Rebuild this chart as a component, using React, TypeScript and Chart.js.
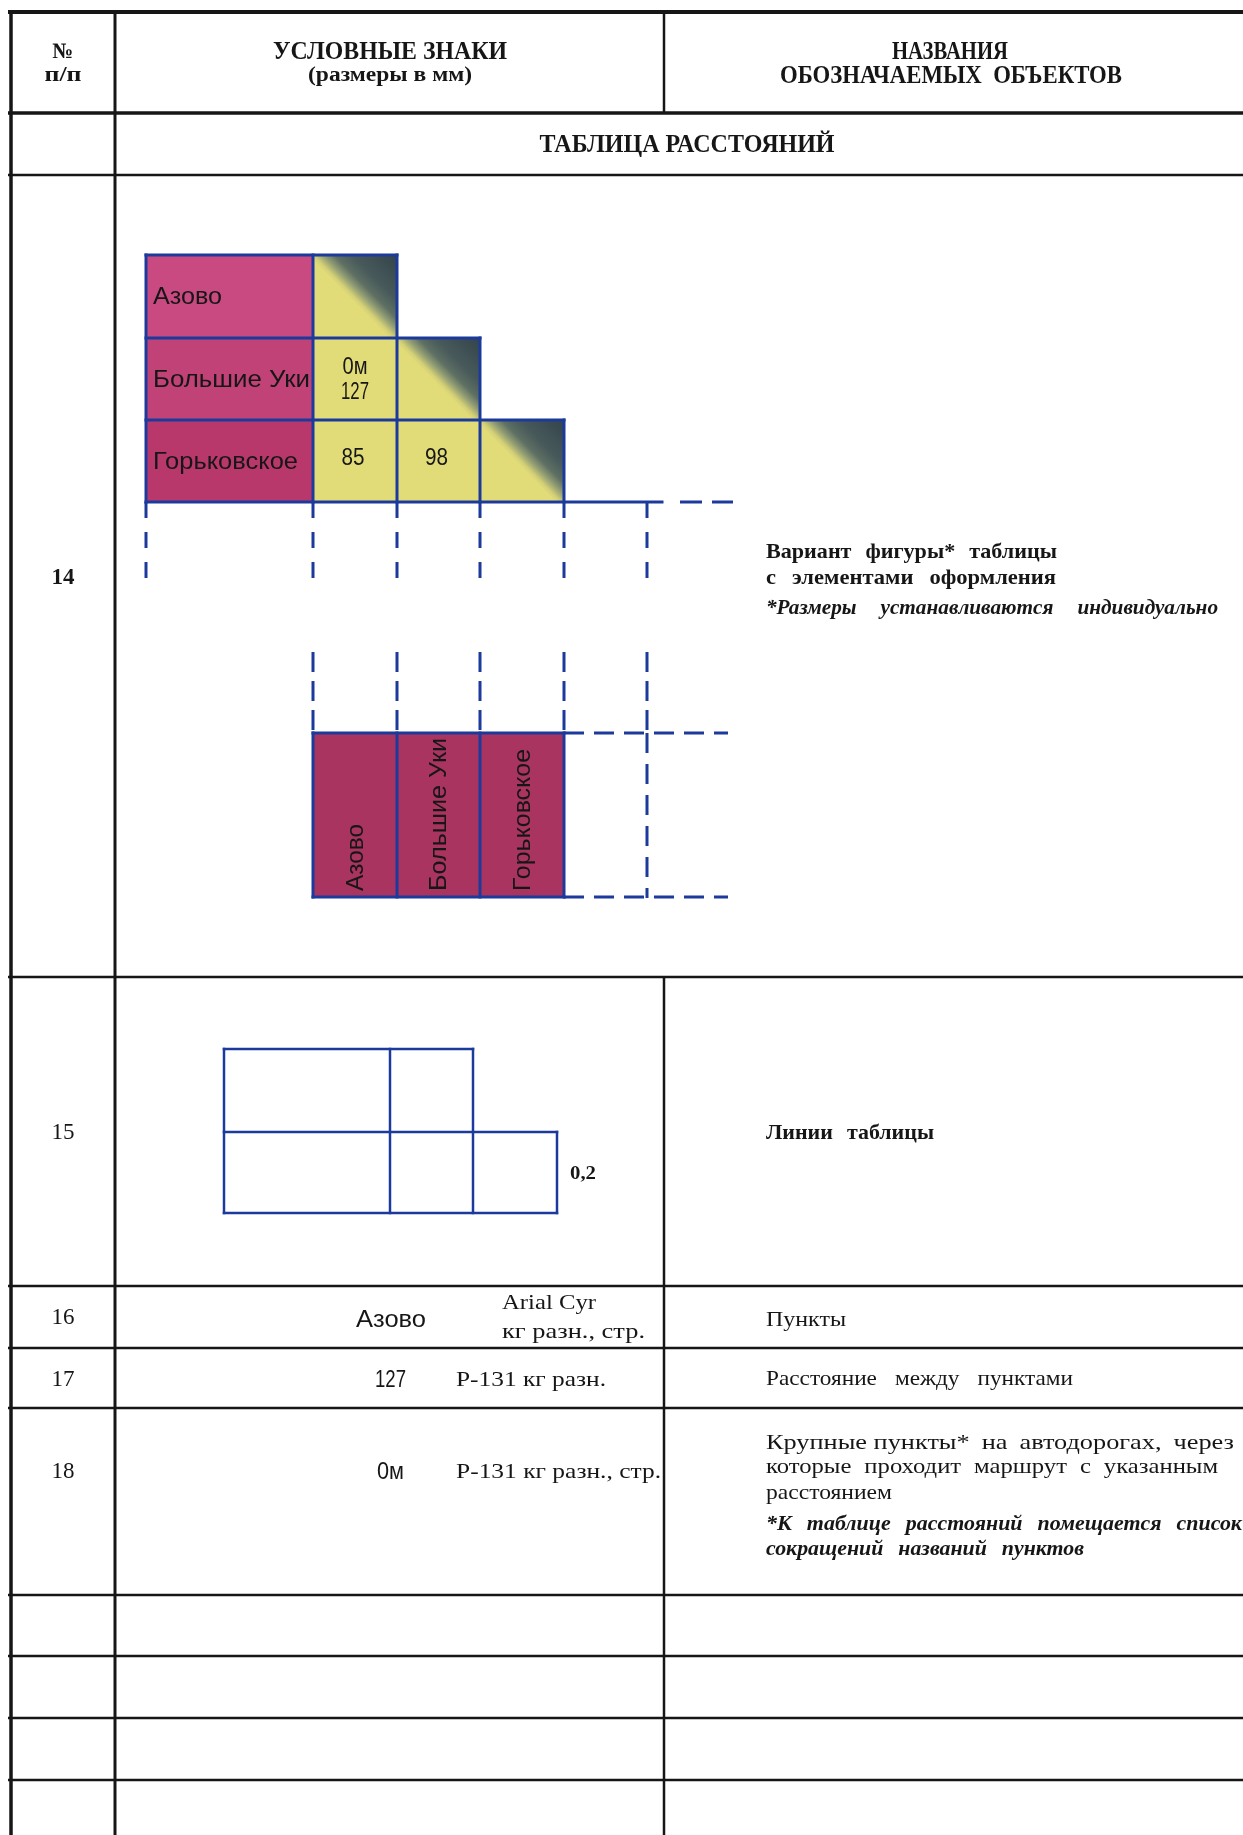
import React, { useEffect, useRef } from "react";
import { Chart, registerables } from "chart.js";

Chart.register(...registerables);

const W = 1243;
const H = 1835;

// ---- content (data) ----
const headerNo = ["№", "п/п"];
const headerSigns = ["УСЛОВНЫЕ ЗНАКИ", "(размеры в мм)"];
const headerNames = ["НАЗВАНИЯ", "ОБОЗНАЧАЕМЫХ  ОБЪЕКТОВ"];
const sectionTitle = "ТАБЛИЦА РАССТОЯНИЙ";
const rowNumbers = ["14", "15", "16", "17", "18"];
const places = ["Азово", "Большие Уки", "Горьковское"];
// distance cells below the diagonal, row by row (each cell may hold several lines)
const distanceCells: string[][][] = [[], [["0м", "127"]], [["85"], ["98"]]];
const lineWeightLabel = "0,2";
const desc14 = ["Вариант  фигуры*  таблицы", "с  элементами  оформления"];
const note14 = "*Размеры  устанавливаются  индивидуально";
const desc15 = "Линии  таблицы";
const sample16 = ["Азово", "Arial Cyr", "кг разн., стр."];
const desc16 = "Пункты";
const sample17 = ["127", "Р-131 кг разн."];
const desc17 = "Расстояние  между  пунктами";
const sample18 = ["0м", "Р-131 кг разн., стр."];
const desc18 = [
  "Крупные пункты*  на  автодорогах,  через",
  "которые  проходит  маршрут  с  указанным",
  "расстоянием",
];
const note18 = ["*К  таблице  расстояний  помещается  список", "сокращений  названий  пунктов"];

// ---- styles ----
const INK = "#161616";
const BLUE = "#1c3a9c";
const MAGENTA = ["#c84a80", "#c14277", "#b9386c"];
const MAGENTA_LOW = "#a9345f";
const YELLOW = "#e2dc78";
const SERIF = "'Liberation Serif', 'Times New Roman', serif";
const SANS = "'Liberation Sans', Arial, sans-serif";

const pagePlugin = {
  id: "pagePlugin",
  beforeDraw(chart: any) {
    const ctx = chart.ctx;
    ctx.save();
    ctx.fillStyle = "#ffffff";
    ctx.fillRect(0, 0, chart.width, chart.height);
    ctx.restore();
  },
  afterDraw(chart: any) {
    const ctx: CanvasRenderingContext2D = chart.ctx;
    const xs = chart.scales.x;
    const ys = chart.scales.y;
    const X = (v: number) => xs.getPixelForValue(v);
    const Y = (v: number) => ys.getPixelForValue(v);

    const line = (
      x1: number, y1: number, x2: number, y2: number,
      color: string, w: number, dash: number[] = [], cap: CanvasLineCap = "butt"
    ) => {
      ctx.save();
      ctx.strokeStyle = color;
      ctx.lineWidth = w;
      ctx.lineCap = cap;
      ctx.setLineDash(dash);
      ctx.beginPath();
      ctx.moveTo(X(x1), Y(y1));
      ctx.lineTo(X(x2), Y(y2));
      ctx.stroke();
      ctx.restore();
    };
    const rect = (x1: number, y1: number, x2: number, y2: number, fill: any) => {
      ctx.save();
      ctx.fillStyle = fill;
      ctx.fillRect(X(x1), Y(y1), X(x2) - X(x1), Y(y2) - Y(y1));
      ctx.restore();
    };
    const txt = (
      s: string, x: number, y: number, font: string,
      o: { align?: CanvasTextAlign; width?: number; rotate?: boolean; gap?: number; color?: string } = {}
    ) => {
      ctx.save();
      ctx.font = font;
      ctx.fillStyle = o.color || INK;
      ctx.textBaseline = "middle";
      ctx.translate(X(x), Y(y));
      if (o.rotate) ctx.rotate(-Math.PI / 2);
      const groups = s.split(/\s{2,}/);
      if (o.gap !== undefined && o.width && groups.length > 1) {
        // justified line: groups separated by a fixed gap, glyphs scaled to fill the width
        const ws = groups.map((w) => ctx.measureText(w).width);
        const sum = ws.reduce((a, b) => a + b, 0);
        const st = (o.width - o.gap * (groups.length - 1)) / sum;
        ctx.textAlign = "left";
        let cx = 0;
        groups.forEach((w, i) => {
          ctx.save();
          ctx.translate(cx, 0);
          ctx.scale(st, 1);
          ctx.fillText(w, 0, 0);
          ctx.restore();
          cx += ws[i] * st + o.gap!;
        });
      } else {
        const m = ctx.measureText(s).width;
        const sx = o.width ? o.width / m : 1;
        ctx.textAlign = o.align || "left";
        ctx.scale(sx, 1);
        ctx.fillText(s, 0, 0);
      }
      ctx.restore();
    };

    // ---------- page frame ----------
    const hRules = [12, 113, 175, 977, 1286, 1348, 1408, 1595, 1656, 1718, 1780];
    hRules.forEach((y, i) => line(8, y, W, y, INK, i === 0 ? 4 : i === 1 ? 3.5 : 2.5));
    line(11, 10, 11, H, INK, 3.5);
    line(115, 10, 115, H, INK, 3);
    line(664, 10, 664, 113, INK, 2.5);
    line(664, 977, 664, H, INK, 2.5);

    // ---------- header ----------
    txt(headerNo[0], 63, 52, `bold 22px ${SERIF}`, { align: "center", width: 21 });
    txt(headerNo[1], 63, 76, `bold 21px ${SERIF}`, { align: "center", width: 37 });
    txt(headerSigns[0], 390, 53, `bold 25px ${SERIF}`, { align: "center", width: 234 });
    txt(headerSigns[1], 390, 76, `bold 20px ${SERIF}`, { align: "center", width: 164 });
    txt(headerNames[0], 950, 53, `bold 25px ${SERIF}`, { align: "center", width: 116 });
    txt(headerNames[1], 951, 77, `bold 25px ${SERIF}`, { align: "center", width: 342 });
    txt(sectionTitle, 687, 146, `bold 25px ${SERIF}`, { align: "center", width: 295 });

    // ---------- row numbers ----------
    const numY = [578, 1133, 1318, 1380, 1472];
    rowNumbers.forEach((n, i) =>
      txt(n, 63, numY[i], `${i === 0 ? "bold " : ""}23px ${SERIF}`, { align: "center", width: 23 })
    );

    // ---------- row 14: distance table figure ----------
    const gx = [146, 313, 397, 480, 564, 647];
    const gy = [255, 338, 420, 502];
    places.forEach((p, r) => {
      rect(gx[0], gy[r], gx[1], gy[r + 1], MAGENTA[r]);
      for (let c = 1; c <= r; c++) rect(gx[c], gy[r], gx[c + 1], gy[r + 1], YELLOW);
      // diagonal cell with shading toward the upper-right corner
      const x1 = gx[r + 1], x2 = gx[r + 2], y1 = gy[r], y2 = gy[r + 1];
      const cx = (X(x1) + X(x2)) / 2, cy = (Y(y1) + Y(y2)) / 2;
      const a = (X(x2) - X(x1)) * 0.04;
      const g = ctx.createLinearGradient(cx - a, cy + a, X(x2), Y(y1));
      g.addColorStop(0, YELLOW);
      g.addColorStop(0.06, "#d3d076");
      g.addColorStop(0.17, "#949f74");
      g.addColorStop(0.3, "#5e6f63");
      g.addColorStop(0.5, "#47595a");
      g.addColorStop(1, "#33444b");
      rect(x1, y1, x2, y2, g);
    });
    // names
    const nameW = [69, 157, 145];
    places.forEach((p, r) =>
      txt(p, 153, (gy[r] + gy[r + 1]) / 2 + 1, `24px ${SANS}`, { width: nameW[r] })
    );
    // distances
    distanceCells.forEach((rowCells, r) => {
      rowCells.forEach((cell, c) => {
        const cxv = (gx[c + 1] + gx[c + 2]) / 2;
        const cyv = (gy[r] + gy[r + 1]) / 2;
        if (cell.length === 1) {
          txt(cell[0], cxv - 2, cyv - 3, `24px ${SANS}`, { align: "center", width: 23 });
        } else {
          txt(cell[0], cxv, cyv - 12, `24px ${SANS}`, { align: "center", width: 25 });
          txt(cell[1], cxv, cyv + 13, `24px ${SANS}`, { align: "center", width: 28 });
        }
      });
    });
    // grid lines (staircase)
    places.forEach((p, r) => line(gx[0], gy[r], gx[r + 2], gy[r], BLUE, 3, [], "square"));
    line(gx[0], gy[3], 662, gy[3], BLUE, 3, [], "square");
    line(680, gy[3], 733, gy[3], BLUE, 3, [22, 10]);
    for (let k = 0; k <= 4; k++) {
      const top = gy[Math.max(0, k - 2)];
      line(gx[k], top, gx[k], gy[3], BLUE, 3, [], "square");
    }
    // dashed continuation below the table
    gx.forEach((x) => line(x, gy[3], x, 583, BLUE, 3, [16, 14]));
    // dashed lead-in to the column header block
    gx.slice(1).forEach((x) => line(x, 652, x, 733, BLUE, 3, [20, 9]));
    // column-header block (rotated names)
    const by1 = 733, by2 = 897;
    rect(gx[1], by1, gx[4], by2, MAGENTA_LOW);
    const vNameW = [67, 153, 142];
    places.forEach((p, i) =>
      txt(p, (gx[i + 1] + gx[i + 2]) / 2 + 1, 891, `24px ${SANS}`, { rotate: true, width: vNameW[i] })
    );
    [by1, by2].forEach((y) => {
      line(gx[1], y, gx[4], y, BLUE, 3, [], "square");
      line(gx[4], y, 728, y, BLUE, 3, [20, 10]);
    });
    for (let k = 1; k <= 4; k++) line(gx[k], by1, gx[k], by2, BLUE, 3, [], "square");
    line(gx[5], by1, gx[5], by2 + 1, BLUE, 3, [20, 11]);

    // row 14 description
    txt(desc14[0], 766, 552, `bold 22px ${SERIF}`, { width: 291, gap: 14 });
    txt(desc14[1], 766, 578, `bold 22px ${SERIF}`, { width: 290, gap: 16 });
    txt(note14, 766, 609, `bold italic 21px ${SERIF}`, { width: 452, gap: 24 });

    // ---------- row 15: table lines ----------
    const lx = [224, 390, 473, 557];
    const ly = [1049, 1132, 1213];
    line(lx[0], ly[0], lx[2], ly[0], BLUE, 2.5, [], "square");
    line(lx[0], ly[1], lx[3], ly[1], BLUE, 2.5, [], "square");
    line(lx[0], ly[2], lx[3], ly[2], BLUE, 2.5, [], "square");
    line(lx[0], ly[0], lx[0], ly[2], BLUE, 2.5, [], "square");
    line(lx[1], ly[0], lx[1], ly[2], BLUE, 2.5, [], "square");
    line(lx[2], ly[0], lx[2], ly[2], BLUE, 2.5, [], "square");
    line(lx[3], ly[1], lx[3], ly[2], BLUE, 2.5, [], "square");
    txt(lineWeightLabel, 570, 1174, `bold 18px ${SERIF}`, { width: 26 });
    txt(desc15, 766, 1133, `bold 22px ${SERIF}`, { width: 168, gap: 14 });

    // ---------- row 16 ----------
    txt(sample16[0], 356, 1320, `24px ${SANS}`, { width: 70 });
    txt(sample16[1], 502, 1303, `22px ${SERIF}`, { width: 94 });
    txt(sample16[2], 502, 1332, `22px ${SERIF}`, { width: 143 });
    txt(desc16, 766, 1320, `22px ${SERIF}`, { width: 80 });

    // ---------- row 17 ----------
    txt(sample17[0], 375, 1380, `24px ${SANS}`, { width: 31 });
    txt(sample17[1], 456, 1380, `22px ${SERIF}`, { width: 150 });
    txt(desc17, 766, 1379, `22px ${SERIF}`, { width: 307, gap: 18 });

    // ---------- row 18 ----------
    txt(sample18[0], 377, 1472, `24px ${SANS}`, { width: 27 });
    txt(sample18[1], 456, 1472, `22px ${SERIF}`, { width: 205 });
    const d18y = [1443, 1467, 1493];
    const d18w = [468, 452, 126];
    const d18g = [12, 13, 0];
    desc18.forEach((s, i) => txt(s, 766, d18y[i], `22px ${SERIF}`, { width: d18w[i], gap: d18g[i] }));
    const n18y = [1525, 1550];
    const n18w = [476, 318];
    note18.forEach((s, i) =>
      txt(s, 766, n18y[i], `bold italic 21px ${SERIF}`, { width: n18w[i], gap: 15 })
    );
  },
};

export default function App() {
  const ref = useRef<HTMLCanvasElement>(null);
  useEffect(() => {
    if (!ref.current) return;
    const chart = new Chart(ref.current, {
      type: "scatter",
      data: { datasets: [{ data: [], pointRadius: 0 }] },
      options: {
        animation: false,
        responsive: false,
        devicePixelRatio: 1,
        layout: { padding: 0 },
        plugins: { legend: { display: false }, tooltip: { enabled: false } },
        scales: {
          x: { type: "linear", min: 0, max: W, display: false },
          y: { type: "linear", min: 0, max: H, reverse: true, display: false },
        },
      },
      plugins: [pagePlugin],
    } as any);
    return () => chart.destroy();
  }, []);
  return (
    <div style={{ position: "absolute", left: 0, top: 0, width: W, height: H, background: "#fff" }}>
      <canvas ref={ref} width={W} height={H} style={{ display: "block", width: W, height: H }} />
    </div>
  );
}
